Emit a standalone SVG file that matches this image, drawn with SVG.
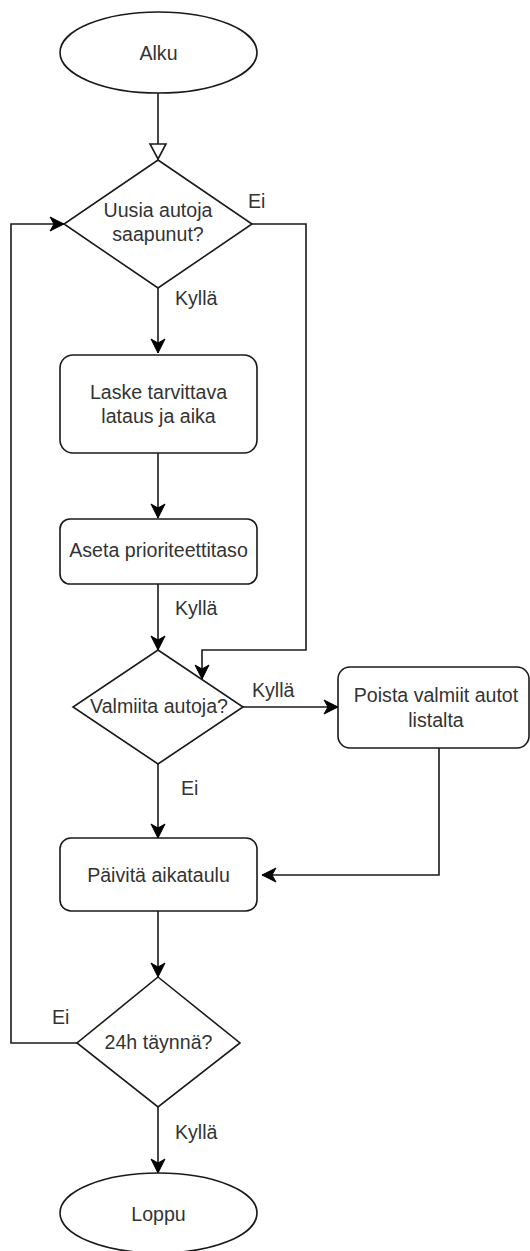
<svg xmlns="http://www.w3.org/2000/svg" width="530" height="1251" viewBox="0 0 530 1251">
<style>
.shape{fill:#ffffff;stroke:#1a1a1a;stroke-width:1.6}
.edge{fill:none;stroke:#1a1a1a;stroke-width:1.6}
text{font-family:"Liberation Sans",Arial,sans-serif;font-size:19.6px;fill:#333333}
.c{text-anchor:middle}
</style>
<defs>
<marker id="arr" markerUnits="userSpaceOnUse" markerWidth="16" markerHeight="16" refX="14" refY="7" orient="auto" overflow="visible">
<path d="M14,7 L0,0 L4,7 L0,14 Z" fill="#000000" stroke="#000000" stroke-width="1"/>
</marker>
<marker id="open" markerUnits="userSpaceOnUse" markerWidth="18" markerHeight="18" refX="15" refY="8" orient="auto" overflow="visible">
<path d="M15,8 L0,0 L0,16 Z" fill="#ffffff" stroke="#1a1a1a" stroke-width="1.6"/>
</marker>
</defs>
<g id="connectors">
<path class="edge" d="M158,93 L158,159" marker-end="url(#open)"/>
<path class="edge" d="M158,288 L158,353" marker-end="url(#arr)"/>
<path class="edge" d="M158,453 L158,518" marker-end="url(#arr)"/>
<path class="edge" d="M158,584 L158,650" marker-end="url(#arr)"/>
<path class="edge" d="M252,224 L306,224 L306,650 L202,650 L202,679" marker-end="url(#arr)"/>
<path class="edge" d="M243,707 L338,707" marker-end="url(#arr)"/>
<path class="edge" d="M158,764 L158,838" marker-end="url(#arr)"/>
<path class="edge" d="M439,748 L439,875 L262,875" marker-end="url(#arr)"/>
<path class="edge" d="M158,911 L158,977" marker-end="url(#arr)"/>
<path class="edge" d="M77,1043 L11,1043 L11,224 L64,224" marker-end="url(#arr)"/>
<path class="edge" d="M158,1107 L158,1173" marker-end="url(#arr)"/>
<text x="175" y="305">Kyllä</text>
<text x="248" y="208">Ei</text>
<text x="175" y="615">Kyllä</text>
<text x="252" y="697">Kyllä</text>
<text x="181" y="795">Ei</text>
<text x="52" y="1024">Ei</text>
<text x="175" y="1139">Kyllä</text>
</g>
<g id="alku">
<ellipse class="shape" cx="158.5" cy="52.5" rx="98.5" ry="40.5"/>
<text class="c" x="158.5" y="60">Alku</text>
</g>
<g id="uusia">
<polygon class="shape" points="158,160 252,224 158,288 64,224"/>
<text class="c" x="158" y="217">Uusia autoja</text>
<text class="c" x="158" y="241">saapunut?</text>
</g>
<g id="laske">
<rect class="shape" x="60" y="355" width="197" height="98" rx="13" ry="13"/>
<text class="c" x="158.5" y="399">Laske tarvittava</text>
<text class="c" x="158.5" y="423">lataus ja aika</text>
</g>
<g id="aseta">
<rect class="shape" x="60" y="519" width="197" height="65" rx="10" ry="10"/>
<text class="c" x="158.5" y="557">Aseta prioriteettitaso</text>
</g>
<g id="valmiita">
<polygon class="shape" points="158,650 243,707 158,764 73,707"/>
<text class="c" x="159" y="713">Valmiita autoja?</text>
</g>
<g id="poista">
<rect class="shape" x="338" y="667" width="191" height="81" rx="12" ry="12"/>
<text class="c" x="436" y="702">Poista valmiit autot</text>
<text class="c" x="436" y="727">listalta</text>
</g>
<g id="paivita">
<rect class="shape" x="60" y="838" width="197" height="73" rx="11" ry="11"/>
<text class="c" x="158.5" y="882">Päivitä aikataulu</text>
</g>
<g id="taynna">
<polygon class="shape" points="158,977 240,1043 158,1107 77,1043"/>
<text class="c" x="158.5" y="1049">24h täynnä?</text>
</g>
<g id="loppu">
<ellipse class="shape" cx="158.5" cy="1213" rx="98.5" ry="40"/>
<text class="c" x="158.5" y="1221">Loppu</text>
</g>
</svg>
